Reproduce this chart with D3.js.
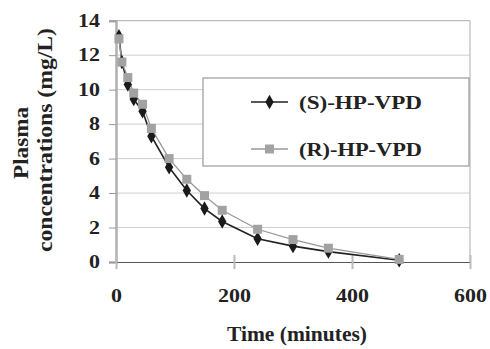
<!DOCTYPE html>
<html><head><meta charset="utf-8">
<script src="https://cdn.jsdelivr.net/npm/d3@7"></script>
<style>body{margin:0;background:#fff}svg{display:block}</style>
</head><body>
<script>
const times = [5,10,20,30,45,60,90,120,150,180,240,300,360,480];
const sValues = [13.1,11.6,10.3,9.45,8.75,7.3,5.5,4.15,3.1,2.35,1.35,0.92,0.6,0.1];
const rValues = [12.95,11.6,10.7,9.8,9.15,7.75,6.0,4.8,3.85,3.0,1.9,1.3,0.8,0.15];
const seriesNames = ["(S)-HP-VPD","(R)-HP-VPD"];
const xTicks = [0,200,400,600];
const yTicks = [0,2,4,6,8,10,12,14];

const FONT = "'Liberation Serif', Tinos, 'Times New Roman', Times, serif";
const W=490,H=349;
const svg=d3.select("body").append("svg").attr("width",W).attr("height",H)
  .style("font-family",FONT).style("font-weight","bold");
const x=d3.scaleLinear().domain([0,600]).range([116,470]);
const y=d3.scaleLinear().domain([0,14]).range([262,20.7]);

svg.append("g").selectAll("line").data(yTicks.filter(d=>d>0)).join("line")
  .attr("x1",x(0)).attr("x2",x(600)).attr("y1",d=>y(d)).attr("y2",d=>y(d))
  .attr("stroke",d=>d===14?"#aaa":"#cfcfcf").attr("stroke-width",1);
svg.append("line").attr("x1",x(600)).attr("x2",x(600)).attr("y1",y(14)).attr("y2",y(0))
  .attr("stroke","#c8c8c8").attr("stroke-width",1.5);

const ya=svg.append("g").attr("transform",`translate(${x(0)},0)`)
  .call(d3.axisLeft(y).tickValues(yTicks).tickSize(7).tickPadding(9).tickFormat(d3.format("d")));
ya.attr("font-family",null).attr("font-size",null);
ya.select(".domain").attr("stroke","#b0b0b0").attr("stroke-width",2.5);
ya.selectAll(".tick line").attr("stroke","#999");
ya.selectAll(".tick text").attr("font-size",18).attr("fill","#222")
  .attr("transform",function(){const xx=+d3.select(this).attr("x");return `translate(${xx},0) scale(1.22,1) translate(${-xx},0)`;});

const xa=svg.append("g").attr("transform",`translate(0,${y(0)})`)
  .call(d3.axisBottom(x).tickValues(xTicks).tickSize(7).tickPadding(20).tickFormat(d3.format("d")));
xa.attr("font-family",null).attr("font-size",null);
xa.select(".domain").attr("stroke","#555").attr("stroke-width",1);
xa.selectAll(".tick line").attr("y1",-7).attr("stroke","#bbb").attr("stroke-width",2);
xa.selectAll(".tick text").attr("font-size",18).attr("fill","#222")
  .attr("transform","scale(1.22,1)");

svg.append("rect").attr("x",203).attr("y",78).attr("width",266).attr("height",88)
  .attr("fill","#fff").attr("stroke","#999").attr("stroke-width",1.2);

const line=d3.line().x(d=>x(d[0])).y(d=>y(d[1]));
const sData=times.map((t,i)=>[t,sValues[i]]);
const rData=times.map((t,i)=>[t,rValues[i]]);
svg.append("path").datum(sData).attr("d",line).attr("fill","none").attr("stroke","#222").attr("stroke-width",1.6);
svg.append("path").datum(rData).attr("d",line).attr("fill","none").attr("stroke","#999").attr("stroke-width",1.3);
const diamond=d3.symbol().type(d3.symbolDiamond).size(60);
svg.append("g").selectAll("path").data(sData).join("path")
  .attr("d",diamond).attr("transform",d=>`translate(${x(d[0])},${y(d[1])})`).attr("fill","#1a1a1a");
svg.append("g").selectAll("rect").data(rData).join("rect")
  .attr("x",d=>x(d[0])-4.5).attr("y",d=>y(d[1])-4.5).attr("width",9).attr("height",9).attr("fill","#a2a2a2");

const lg=svg.append("g");
[[102,"#222",1.6],[149,"#999",1.3]].forEach(([ly,c,w],i)=>{
  lg.append("line").attr("x1",251).attr("x2",288).attr("y1",ly).attr("y2",ly).attr("stroke",c).attr("stroke-width",w);
  if(i===0) lg.append("path").attr("d",diamond).attr("transform",`translate(269.5,${ly})`).attr("fill","#1a1a1a");
  else lg.append("rect").attr("x",265).attr("y",ly-4.5).attr("width",9).attr("height",9).attr("fill","#a2a2a2");
  lg.append("text").attr("x",299).attr("y",ly+6.5).attr("font-size",19).attr("fill","#222")
    .attr("textLength",123).attr("lengthAdjust","spacingAndGlyphs").text(seriesNames[i]);
});

svg.append("text").attr("x",297).attr("y",341).attr("text-anchor","middle").attr("font-size",20).attr("fill","#222")
  .attr("textLength",140).attr("lengthAdjust","spacingAndGlyphs").text("Time (minutes)");
svg.append("text").attr("transform","translate(28,143) rotate(-90)").attr("text-anchor","middle").attr("font-size",20).attr("fill","#222")
  .attr("textLength",72).attr("lengthAdjust","spacingAndGlyphs").text("Plasma");
svg.append("text").attr("transform","translate(52,140) rotate(-90)").attr("text-anchor","middle").attr("font-size",20).attr("fill","#222")
  .attr("textLength",224).attr("lengthAdjust","spacingAndGlyphs").text("concentrations (mg/L)");
</script>
</body></html>
